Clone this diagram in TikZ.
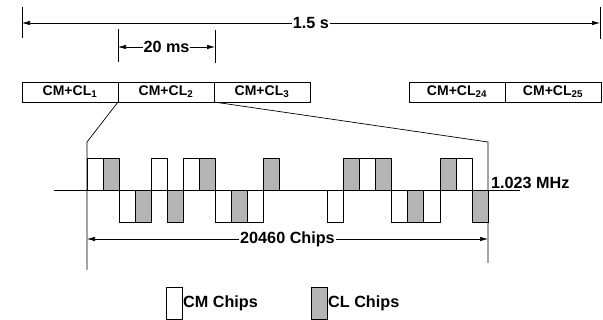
\documentclass[tikz,border=0pt]{standalone}
\usepackage{fontspec}
\setmainfont{Liberation Sans}
\usepackage{tikz}
\usetikzlibrary{arrows.meta,positioning}
\usepackage{xcolor}
\definecolor{Ink}{HTML}{000000}
\definecolor{ChipGray}{HTML}{B5B5B5}
\tikzset{
  frame/.style={draw=Ink, line width=0.8pt, minimum width=96pt, minimum height=20pt, inner sep=0pt, outer sep=0pt, font=\fontsize{14}{15}\selectfont\bfseries},
  dim/.style={{Latex[length=8pt,width=4.5pt]}-{Latex[length=8pt,width=4.5pt]}, line width=0.7pt, draw=Ink},
  dimlabel/.style={fill=white, inner sep=1pt, font=\fontsize{16.2}{17}\selectfont\bfseries},
  guide/.style={line width=0.7pt, draw=Ink},
  cmchip/.style={draw=Ink, line width=0.7pt, fill=white},
  clchip/.style={draw=Ink, line width=0.7pt, fill=ChipGray},
  legend/.style={minimum width=16pt, minimum height=32pt, inner sep=0pt, outer sep=0pt},
  legtext/.style={anchor=west, inner sep=1pt, font=\fontsize{16.2}{17}\selectfont\bfseries}
}

\begin{document}
\begin{tikzpicture}[x=1pt, y=-1pt]
\useasboundingbox (0,0) rectangle (603,320);
% frame row
\node[frame, anchor=north west] (b1) at (22,82) {CM+CL\textsubscript{1}};
\node[frame, right=0pt of b1] (b2) {CM+CL\textsubscript{2}};
\node[frame, right=0pt of b2] (b3) {CM+CL\textsubscript{3}};
\node[frame, anchor=north west] (b24) at (409,82) {CM+CL\textsubscript{24}};
\node[frame, right=0pt of b24] (b25) {CM+CL\textsubscript{25}};
% 1.5 s span
\coordinate (sTopL) at (22,7);  \coordinate (sBotL) at (22,38);
\coordinate (sTopR) at (600,7); \coordinate (sBotR) at (600,39);
\coordinate (sL) at (22,23);    \coordinate (sR) at (600,23);
\draw[guide] (sTopL) -- (sBotL);
\draw[guide] (sTopR) -- (sBotR);
\draw[dim] (sL) -- node[dimlabel] (span) {1.5 s} (sR);
% 20 ms span
\coordinate (mTopL) at (118,29); \coordinate (mBotL) at (118,62);
\coordinate (mTopR) at (215,30); \coordinate (mBotR) at (215,63);
\coordinate (mL) at (118,47);    \coordinate (mR) at (215,47);
\draw[guide] (mTopL) -- (mBotL);
\draw[guide] (mTopR) -- (mBotR);
\draw[dim] (mL) -- node[dimlabel] (frm) {20 ms} (mR);
% zoom lines
\coordinate (zlt) at (87,142);  \coordinate (zlb) at (87,270);
\coordinate (zrt) at (488,142); \coordinate (zrb) at (488,263);
\draw[guide] (b1.south east) -- (zlt) -- (zlb);
\draw[guide] (b2.south east) -- (zrt) -- (zrb);
% chips
\foreach \n/\lv/\st in {1/158/cmchip, 2/158/clchip, 3/222/cmchip, 4/222/clchip, 5/158/cmchip, 6/222/clchip,
  7/158/cmchip, 8/158/clchip, 9/222/cmchip, 10/222/clchip, 11/222/cmchip, 12/158/clchip,
  16/222/cmchip, 17/158/clchip, 18/158/cmchip, 19/158/clchip, 20/222/cmchip, 21/222/clchip,
  22/222/cmchip, 23/158/clchip, 24/158/cmchip, 25/222/clchip}
  \draw[\st] ({87+16.04*(\n-1)},190) rectangle ++(16.04,\lv-190);
\coordinate (axL) at (54,190); \coordinate (axR) at (520,190);
\draw[guide] (axL) -- (axR);
\node[anchor=base west, inner sep=0pt, font=\fontsize{16.2}{17}\selectfont\bfseries] (freq) at (491,189) {1.023 MHz};
% 20460 chips span
\coordinate (cL) at (87,239); \coordinate (cR) at (488,239);
\draw[dim] (cL) -- node[dimlabel] (nchip) {20460 Chips} (cR);
% legend
\node[legend, draw=Ink, line width=0.7pt, fill=white, anchor=north west] (lgcm) at (166,287) {};
\node[legtext, right=0pt of lgcm] (lgcmt) {CM Chips};
\node[legend, draw=Ink, line width=0.7pt, fill=ChipGray, anchor=north west] (lgcl) at (311,287) {};
\node[legtext, right=0pt of lgcl] (lgclt) {CL Chips};
\end{tikzpicture}
\end{document}
